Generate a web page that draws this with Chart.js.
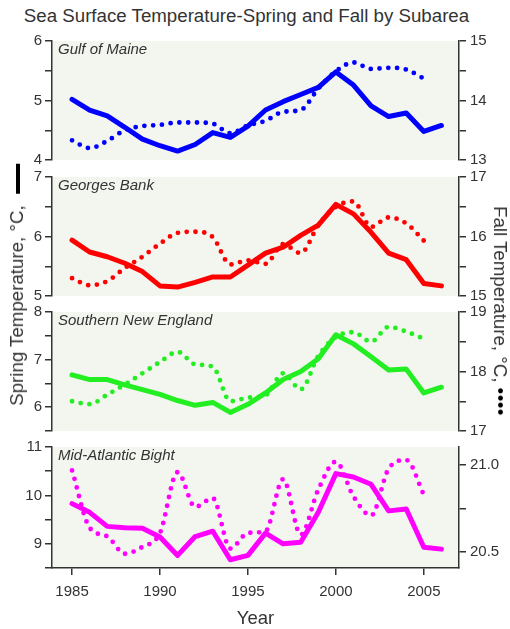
<!DOCTYPE html>
<html>
<head>
<meta charset="utf-8">
<script src="https://cdn.jsdelivr.net/npm/chart.js@4.4.1/dist/chart.umd.min.js"></script>
<style>
html,body{margin:0;padding:0;background:#fff;}
#wrap{position:relative;width:510px;height:629px;overflow:hidden;font-family:Arial,"Liberation Sans",sans-serif;color:#333;}
canvas{position:absolute;left:0;}
#title{position:absolute;left:0;width:493px;top:5px;text-align:center;font-size:18.7px;line-height:22px;white-space:nowrap;}
.plab{position:absolute;left:58px;font-style:italic;font-size:15px;line-height:18px;white-space:nowrap;}
.side{position:absolute;font-size:18.7px;line-height:22px;white-space:nowrap;}
#ylab{left:16.5px;top:285px;transform:translate(-50%,-50%) rotate(-90deg);}
#y2lab{left:500px;top:311px;transform:translate(-50%,-50%) rotate(90deg);}
.bar{display:inline-block;width:30px;height:4.5px;background:#000;vertical-align:middle;margin-left:6px;}
.dots{color:#000;letter-spacing:0.5px;}
</style>
</head>
<body>
<div id="wrap">
  <div id="title">Sea Surface Temperature-Spring and Fall by Subarea</div>
  <canvas id="c1" width="510" height="145" style="top:28px"></canvas>
  <canvas id="c2" width="510" height="145" style="top:164px"></canvas>
  <canvas id="c3" width="510" height="145" style="top:299px"></canvas>
  <canvas id="c4" width="510" height="195" style="top:434px"></canvas>
  <div class="plab" style="top:40px">Gulf of Maine</div>
  <div class="plab" style="top:176px">Georges Bank</div>
  <div class="plab" style="top:311px">Southern New England</div>
  <div class="plab" style="top:446px">Mid-Atlantic Bight</div>
  <div class="side" id="ylab">Spring Temperature, °C, <span class="bar"></span></div>
  <div class="side" id="y2lab">Fall Temperature, °C, <span class="dots">••••</span></div>
</div>
<script>
// ---- data ----
const springYears = [1985,1986,1987,1988,1989,1990,1991,1992,1993,1994,1995,1996,1997,1998,1999,2000,2001,2002,2003,2004,2005,2006];
const fallYears   = [1985,1986,1987,1988,1989,1990,1991,1992,1993,1994,1995,1996,1997,1998,1999,2000,2001,2002,2003,2004,2005];

const gomSpring = [5.02,4.84,4.74,4.55,4.35,4.24,4.15,4.26,4.46,4.38,4.57,4.84,4.98,5.10,5.22,5.48,5.26,4.91,4.73,4.79,4.48,4.58];
const gomFall   = [13.33,13.20,13.32,13.50,13.57,13.59,13.63,13.63,13.61,13.45,13.58,13.66,13.81,13.84,14.20,14.49,14.64,14.53,14.55,14.52,14.37];

const gbSpring  = [5.94,5.74,5.66,5.55,5.41,5.17,5.15,5.23,5.32,5.32,5.52,5.72,5.82,6.02,6.19,6.54,6.38,6.07,5.72,5.61,5.21,5.17];
const gbFall    = [15.30,15.18,15.25,15.47,15.66,15.88,16.06,16.08,15.99,15.53,15.60,15.54,15.87,15.72,16.19,16.50,16.59,16.16,16.32,16.22,15.93];

const sneSpring = [6.68,6.58,6.58,6.47,6.37,6.27,6.14,6.04,6.10,5.89,6.06,6.30,6.58,6.75,7.02,7.52,7.33,7.06,6.78,6.80,6.30,6.42];
const sneFall   = [17.50,17.45,17.61,17.78,17.97,18.16,18.33,18.12,18.08,17.50,17.56,17.60,17.97,17.70,18.26,18.58,18.66,18.50,18.75,18.67,18.55];

const mabSpring = [9.83,9.65,9.36,9.33,9.32,9.14,8.76,9.15,9.26,8.67,8.76,9.22,9.00,9.03,9.65,10.45,10.38,10.23,9.68,9.72,8.93,8.89];
const mabFall   = [20.97,20.64,20.59,20.49,20.53,20.61,20.96,20.76,20.81,20.52,20.61,20.62,20.92,20.60,20.86,21.02,20.82,20.71,20.98,21.03,20.83];

// ---- ticks ----
const yearTicks = [1985,1990,1995,2000,2005];
const gomLeftTicks  = [4,4.5,5,5.5,6];
const gomRightTicks = [13,13.5,14,14.5,15];
const gbLeftTicks   = [5,5.5,6,6.5,7];
const gbRightTicks  = [15,15.5,16,16.5,17];
const sneLeftTicks  = [5.5,6,6.5,7,7.5,8];
const sneRightTicks = [17,17.5,18,18.5,19];
const mabLeftTicks  = [8.5,9,9.5,10,10.5,11];
const mabRightTicks = [20.5,20.75,21.0];

const FONT = 'Arial, "Liberation Sans", sans-serif';
const AXIS = '#333333';
const PLOT_BG = '#f3f5ef';

const bgPlugin = {
  id: 'plotbg',
  beforeDraw(chart) {
    const {ctx, chartArea: a} = chart;
    ctx.save();
    ctx.fillStyle = PLOT_BG;
    ctx.fillRect(a.left, a.top, a.right - a.left, a.bottom - a.top);
    ctx.restore();
  }
};

function pts(xs, ys) { return ys.map((v, i) => ({x: xs[i], y: v})); }

function yAxis(pos, min, max, tickVals, isLabel, fmt) {
  return {
    position: pos, min: min, max: max,
    afterBuildTicks: s => { s.ticks = tickVals.map(v => ({value: v})); },
    afterFit: s => { s.width = pos === 'left' ? 52 : 51; },
    ticks: {
      autoSkip: false,
      color: AXIS,
      font: {size: 15, family: FONT},
      padding: pos === 'left' ? 3 : 4,
      callback: v => isLabel(v) ? fmt(v) : ''
    },
    grid: {drawOnChartArea: false, drawTicks: true, tickLength: 7, color: AXIS, lineWidth: 1.5},
    border: {display: true, color: AXIS, width: 1.5}
  };
}

const isInt = v => Math.abs(v - Math.round(v)) < 1e-9;
const isHalf = v => Math.abs(v * 2 - Math.round(v * 2)) < 1e-9;
const fmtInt = v => String(Math.round(v));
const fmt1 = v => v.toFixed(1);

function makeChart(id, color, spring, fall, left, right, showX) {
  const xAxis = {
    type: 'linear', min: 1983.86, max: 2007.0,
    display: showX,
    afterBuildTicks: s => { s.ticks = yearTicks.map(v => ({value: v})); },
    ticks: {autoSkip: false, color: AXIS, font: {size: 15, family: FONT}, padding: 8, maxRotation: 0,
            callback: v => String(v)},
    grid: {drawOnChartArea: false, drawTicks: true, tickLength: 7, color: AXIS, lineWidth: 1.5},
    border: {display: true, color: AXIS, width: 1.5},
    title: {display: true, text: 'Year', color: AXIS, font: {size: 18.5, family: FONT, lineHeight: 1.1}, padding: {top: 0, bottom: 0}}
  };
  if (showX) xAxis.afterFit = s => { s.height = 61; };
  return new Chart(document.getElementById(id), {
    type: 'line',
    data: {
      datasets: [
        {label: 'Spring', data: pts(springYears, spring), yAxisID: 'yL',
         borderColor: color, borderWidth: 5, pointRadius: 0, tension: 0,
         borderJoinStyle: 'round', borderCapStyle: 'round', fill: false},
        {label: 'Fall', data: pts(fallYears, fall), yAxisID: 'yR',
         borderColor: color, borderWidth: 4.8, pointRadius: 0,
         cubicInterpolationMode: 'monotone',
         borderDash: [0, 8.8], borderCapStyle: 'round', fill: false}
      ]
    },
    options: {
      responsive: false, animation: false, events: [],
      layout: {padding: {top: 12, bottom: showX ? 0 : 12, left: 0, right: 0}},
      plugins: {legend: {display: false}, tooltip: {enabled: false}, title: {display: false}},
      scales: {
        x: xAxis,
        yL: left,
        yR: right
      }
    },
    plugins: [bgPlugin]
  });
}

makeChart('c1', '#0000ff', gomSpring, gomFall,
  yAxis('left', 4, 6, gomLeftTicks, isInt, fmtInt),
  yAxis('right', 13, 15, gomRightTicks, isInt, fmtInt), false);
makeChart('c2', '#ff0000', gbSpring, gbFall,
  yAxis('left', 5, 7, gbLeftTicks, isInt, fmtInt),
  yAxis('right', 15, 17, gbRightTicks, isInt, fmtInt), false);
makeChart('c3', '#22ee22', sneSpring, sneFall,
  yAxis('left', 5.5, 8, sneLeftTicks, isInt, fmtInt),
  yAxis('right', 17, 19, sneRightTicks, isInt, fmtInt), false);
makeChart('c4', '#ff00ff', mabSpring, mabFall,
  yAxis('left', 8.5, 11, mabLeftTicks, isInt, fmtInt),
  yAxis('right', 20.408, 21.105, mabRightTicks, v => isHalf(v), fmt1), true);
</script>
</body>
</html>
